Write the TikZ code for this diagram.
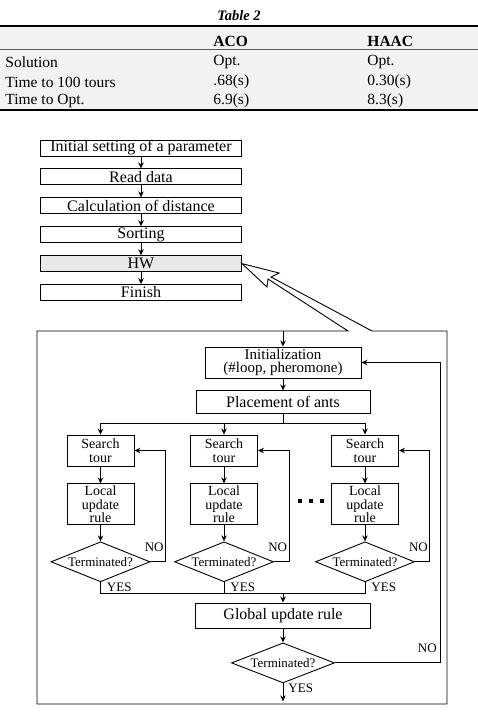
\documentclass[tikz,border=0pt]{standalone}
\usepackage{fontspec}
\setmainfont{Liberation Serif}
\usetikzlibrary{positioning, shapes.geometric, arrows.meta}

\begin{document}
\begin{tikzpicture}[x=1pt, y=-1pt, node distance=12pt, line width=0.9pt, >={Stealth[length=6pt, width=5.5pt]},
		box/.style={draw, inner sep=0pt, align=center, font=\fontsize{16}{12}\selectfont},
		flow/.style={box, minimum width=201pt, minimum height=16pt},
		col/.style={box, minimum width=67pt, font=\fontsize{14}{13.5}\selectfont},
		test/.style={diamond, draw, aspect=2.5, inner sep=0pt, minimum width=99pt, minimum height=40pt, font=\fontsize{13}{15}\selectfont},
		lbl/.style={inner sep=0pt, font=\fontsize{13}{15}\selectfont},
		cell/.style={anchor=west, inner sep=0pt, font=\fontsize{15.5}{18}\selectfont},
		head/.style={cell, font=\fontsize{15.5}{18}\selectfont\bfseries}]
		\useasboundingbox (0,0) rectangle (478,718);
		\node[font=\fontsize{14.5}{17}\selectfont\bfseries\itshape] (title) at (239,16) {Table 2};
		\fill[gray!10] (0,26) rectangle (478,110);
		\draw[line width=2.4pt] (0,26) -- (478,26);
		\draw[line width=0.6pt, gray!70!black] (0,49) -- (478,49);
		\draw[line width=2.4pt] (0,110) -- (478,110);
		\node[head] (aco) at (213,41) {ACO};
		\node[head] (haac) at (367,41) {HAAC};
		\node[cell] (sol) at (5,62) {Solution};
		\node[cell] (sol2) at (213,62) {Opt.};
		\node[cell] (sol3) at (367,62) {Opt.};
		\node[cell] (tours) at (5,82) {Time to 100 tours};
		\node[cell] (tours2) at (213,82) {.68(s)};
		\node[cell] (tours3) at (367,82) {0.30(s)};
		\node[cell] (opt) at (5,101) {Time to Opt.};
		\node[cell] (opt2) at (213,101) {6.9(s)};
		\node[cell] (opt3) at (367,101) {8.3(s)};

		\node[flow] (setup) at (141,148) {Initial setting of a parameter};
		\node[flow] (read) [below=of setup] {Read data} edge[<-] (setup);
		\node[flow] (dist) [below=of read] {Calculation of distance} edge[<-] (read);
		\node[flow] (sort) [below=of dist] {Sorting} edge[<-] (dist);
		\node[flow, fill=gray!18] (hw) [below=of sort] {HW} edge[<-] (sort);
		\node[flow] (finish) [below=of hw] {Finish} edge[<-] (hw);
		\draw (372,331) -- (447,331) -- (447,704) -- (37,704) -- (37,331) -- (348,331) -- (268,279) -- (267,287) -- (hw.east) -- (279,273) -- (271,277) -- cycle;

		\coordinate (entry) at (283,331);
		\node[box, minimum width=156pt, minimum height=31pt, font=\fontsize{15}{13.5}\selectfont] (init) at (283,362.5) {Initialization\\(\#loop, pheromone)};
		\draw[->] (entry) -- (init);
		\node[box, minimum width=174pt, minimum height=23pt] (place) [below=of init] {Placement of ants} edge[<-] (init);
		\draw (place.south) -- ++(0,9) coordinate (split);

		\node[col, minimum height=31pt] (search1) at (100.5,450.5) {Search\\tour};
		\node[col, minimum height=41pt] (local1) [below=17pt of search1] {Local\\update\\rule} edge[<-] (search1);
		\node[test] (term1) [below=16pt of local1] {Terminated?} edge[<-] (local1);
		\node[col, minimum height=31pt] (search2) at (224,450.5) {Search\\tour};
		\node[col, minimum height=41pt] (local2) [below=17pt of search2] {Local\\update\\rule} edge[<-] (search2);
		\node[test] (term2) [below=16pt of local2] {Terminated?} edge[<-] (local2);
		\node[col, minimum height=31pt] (search3) at (365,450.5) {Search\\tour};
		\node[col, minimum height=41pt] (local3) [below=17pt of search3] {Local\\update\\rule} edge[<-] (search3);
		\node[test] (term3) [below=16pt of local3] {Terminated?} edge[<-] (local3);
		\draw[->] (split) -| (search1.north);
		\draw[->] (split) -| (search3.north);
		\draw[->] (split -| search2) -- (search2.north);
		\draw[->] (term1.east) -- node[lbl, above=10pt, pos=0.25] {NO} ++(15,0) |- (search1.east);
		\draw[->] (term2.east) -- node[lbl, above=10pt, pos=0.25] {NO} ++(15,0) |- (search2.east);
		\draw[->] (term3.east) -- node[lbl, above=10pt, pos=0.25] {NO} ++(14,0) |- (search3.east);
		\coordinate (dots) at (311,501);
		\foreach \d in {-11,0,11}
			\fill[shift={(dots)}] (\d-2.2,-2.2) rectangle ++(4.4,4.4);

		\draw (term1.south) -- node[lbl, right=6pt] {YES} ++(0,11) coordinate (join) -- (join -| term3.south) -- node[lbl, right=6pt] {YES} (term3.south);
		\draw (term2.south) -- node[lbl, right=6pt] {YES} (term2.south |- join);
		\node[box, minimum width=175pt, minimum height=25pt] (global) at (283,615.5) {Global update rule};
		\draw[->] (join -| global) -- (global.north);
		\node[test, minimum width=103pt] (gterm) [below=14pt of global] {Terminated?} edge[<-] (global);
		\draw[->] (gterm.east) -- node[lbl, above=10pt, pos=0.88] {NO} ++(105,0) |- (init.east);
		\draw[->] (gterm.south) -- node[lbl, right=5pt, pos=0.25] {YES} ++(0,18);
	\end{tikzpicture}
\end{document}
